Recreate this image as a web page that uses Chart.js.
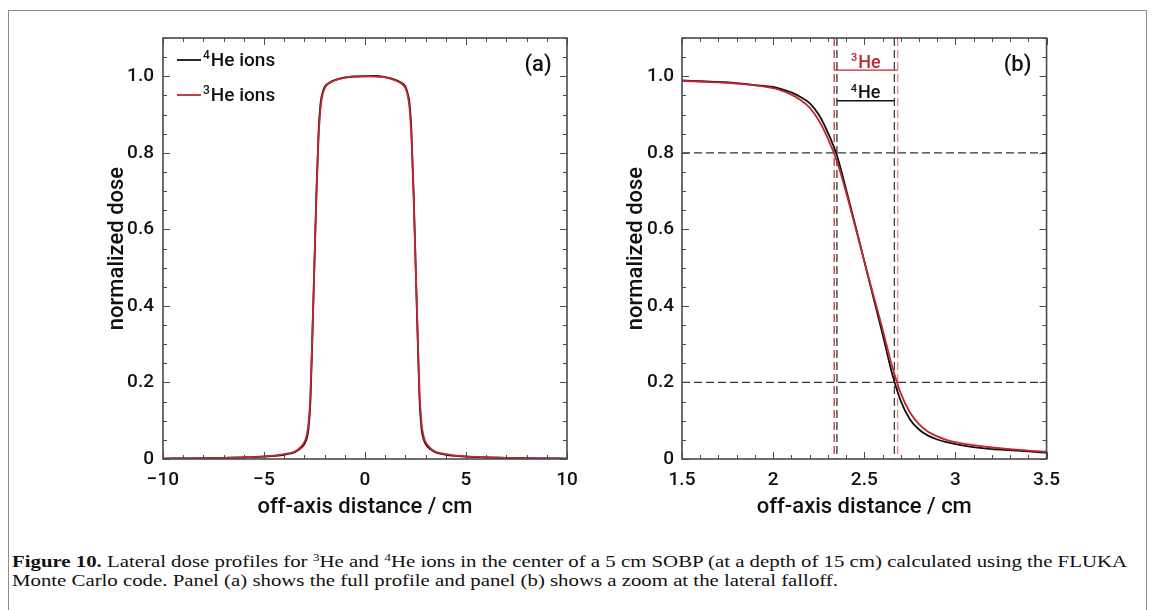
<!DOCTYPE html>
<html>
<head>
<meta charset="utf-8">
<script src="https://cdn.jsdelivr.net/npm/chart.js@4/dist/chart.umd.min.js"></script>
<style>
  html, body { margin: 0; padding: 0; background: #fff; }
  body { width: 1155px; height: 610px; position: relative; overflow: hidden; }
  #frame { position: absolute; left: 8px; top: 10px; width: 1139px; height: 640px; border: 1px solid #8c8c8c; box-sizing: border-box; }
  #wrapA { position: absolute; left: 0; top: 0; }
  #wrapB { position: absolute; left: 590px; top: 0; }
  #caption { position: absolute; left: 12px; top: 552px; font-family: "Liberation Serif", serif; font-size: 17px; line-height: 19px; color: #111; white-space: nowrap; transform-origin: 0 0; }
  #caption sup { font-size: 11px; line-height: 0; vertical-align: 6px; }
</style>
</head>
<body>
<div id="frame"></div>
<div id="wrapA"><canvas id="chartA" width="590" height="530"></canvas></div>
<div id="wrapB"><canvas id="chartB" width="480" height="530"></canvas></div>
<div id="caption"><span id="cap1"><b>Figure 10.</b> Lateral dose profiles for <sup>3</sup>He and <sup>4</sup>He ions in the center of a 5 cm SOBP (at a depth of 15 cm) calculated using the FLUKA</span><br><span>Monte Carlo code. Panel (a) shows the full profile and panel (b) shows a zoom at the lateral falloff.</span></div>
<script>
const FONT = 'Roboto';
const WEIGHT = 500;
const BLACK = '#111111';
const RED = '#c1272d';

// Panel (a): full lateral profile
const xA = [-10, -9, -8, -7, -6, -5, -4.5, -4, -3.5, -3.25, -3, -2.9, -2.8, -2.7, -2.6, -2.5, -2.4, -2.3, -2.2, -2.1, -2, -1.8, -1.5, -1, -0.5, 0,
            0.5, 1, 1.5, 1.8, 2, 2.1, 2.2, 2.3, 2.4, 2.5, 2.6, 2.7, 2.8, 2.9, 3, 3.25, 3.5, 4, 4.5, 5, 6, 7, 8, 9, 10];
const he4A = [0.001, 0.0015, 0.002, 0.003, 0.004, 0.006, 0.008, 0.011, 0.017, 0.025, 0.039, 0.051, 0.077, 0.152, 0.327, 0.517, 0.705, 0.853, 0.930, 0.957, 0.972, 0.982, 0.990, 0.997, 0.999, 1.000,
              1.001, 0.998, 0.991, 0.983, 0.973, 0.958, 0.931, 0.855, 0.707, 0.519, 0.329, 0.153, 0.078, 0.052, 0.039, 0.025, 0.017, 0.011, 0.008, 0.006, 0.004, 0.003, 0.002, 0.0015, 0.001];
const he3A = [0.001, 0.0015, 0.002, 0.003, 0.0045, 0.007, 0.009, 0.013, 0.019, 0.028, 0.044, 0.059, 0.091, 0.172, 0.340, 0.517, 0.697, 0.838, 0.918, 0.952, 0.968, 0.981, 0.989, 0.996, 1.000, 1.000,
              0.999, 0.997, 0.989, 0.981, 0.969, 0.953, 0.919, 0.839, 0.698, 0.518, 0.341, 0.173, 0.092, 0.060, 0.044, 0.028, 0.019, 0.013, 0.009, 0.007, 0.0045, 0.003, 0.002, 0.0015, 0.001];

// Panel (b): zoom on the falloff
const xB = [1.5, 1.6, 1.7, 1.8, 1.9, 2.0, 2.05, 2.1, 2.15, 2.2, 2.25, 2.3, 2.35, 2.4, 2.45, 2.5, 2.55, 2.6, 2.65, 2.7, 2.75, 2.8, 2.85, 2.9, 2.95, 3.0, 3.1, 3.2, 3.3, 3.4, 3.5];
const he4B = [0.989, 0.987, 0.985, 0.982, 0.977, 0.972, 0.966, 0.958, 0.946, 0.930, 0.900, 0.853, 0.793, 0.705, 0.612, 0.517, 0.422, 0.327, 0.228, 0.152, 0.104, 0.077, 0.061, 0.051, 0.044, 0.039, 0.031, 0.026, 0.023, 0.020, 0.0165];
const he3B = [0.988, 0.986, 0.984, 0.981, 0.976, 0.969, 0.962, 0.952, 0.938, 0.918, 0.885, 0.838, 0.778, 0.697, 0.608, 0.517, 0.428, 0.340, 0.247, 0.172, 0.122, 0.091, 0.071, 0.059, 0.050, 0.044, 0.036, 0.030, 0.026, 0.022, 0.019];

// 80% / 20% dose levels and where each curve crosses them
const doseLevels = [0.8, 0.2];
const cross4He = [2.35, 2.665];
const cross3He = [2.335, 2.683];
const bracketY = { he3: 1.016, he4: 0.936 };

// tick labels
const xTicksA = [-10, -5, 0, 5, 10];
const xTicksB = [1.5, 2, 2.5, 3, 3.5];
const yTicks = [0, 0.2, 0.4, 0.6, 0.8, 1.0];

const legendItems = [
    { sup: '4', text: 'He ions', color: BLACK },
    { sup: '3', text: 'He ions', color: RED }
];

function pts(xs, ys) {
    return xs.map((x, i) => ({ x: x, y: ys[i] }));
}

function supText(ctx, sup, main, x, y, size, color, align) {
    ctx.save();
    ctx.fillStyle = color;
    ctx.textBaseline = 'alphabetic';
    ctx.textAlign = 'left';
    const supSize = Math.round(size * 0.62);
    ctx.font = `${WEIGHT} ${supSize}px ${FONT}`;
    const ws = ctx.measureText(sup).width;
    ctx.font = `${WEIGHT} ${size}px ${FONT}`;
    const wm = ctx.measureText(main).width;
    const x0 = align === 'center' ? x - (ws + 1 + wm) / 2 : x;
    ctx.font = `${WEIGHT} ${supSize}px ${FONT}`;
    ctx.fillText(sup, x0, y - size * 0.36);
    ctx.font = `${WEIGHT} ${size}px ${FONT}`;
    ctx.fillText(main, x0 + ws + 1, y);
    ctx.restore();
}

// frame with inward ticks on all four sides
const framePlugin = {
    id: 'frame',
    afterDraw(chart, args, opts) {
        const { ctx, chartArea: a, scales: { x, y } } = chart;
        ctx.save();
        ctx.strokeStyle = '#4a4a4a';
        ctx.lineWidth = 1;
        const tick = (px, py, dx, dy) => {
            ctx.beginPath();
            ctx.moveTo(px, py);
            ctx.lineTo(px + dx, py + dy);
            ctx.stroke();
        };
        for (let v = x.min; v <= x.max + 1e-9; v += opts.xMinor) {
            const major = opts.xMajor.some(m => Math.abs(m - v) < 1e-6);
            const len = major ? 7 : 4;
            const px = Math.round(x.getPixelForValue(v)) + 0.5;
            tick(px, a.bottom, 0, -len);
            tick(px, a.top, 0, len);
        }
        for (let v = 0; v <= y.max + 1e-9; v += 0.05) {
            const major = yTicks.some(m => Math.abs(m - v) < 1e-6);
            const len = major ? 7 : 4;
            const py = Math.round(y.getPixelForValue(v)) + 0.5;
            tick(a.left, py, len, 0);
            tick(a.right, py, -len, 0);
        }
        ctx.lineWidth = 1.6;
        ctx.strokeStyle = '#4a4a4a';
        ctx.strokeRect(a.left, a.top, a.right - a.left, a.bottom - a.top);

        // panel tag
        ctx.fillStyle = BLACK;
        ctx.font = `${WEIGHT} 22px ${FONT}`;
        ctx.textAlign = 'center';
        ctx.textBaseline = 'alphabetic';
        ctx.fillText(opts.tag, a.right - opts.tagDx, 71);

        // legend (panel a only)
        if (opts.legend) {
            legendItems.forEach((it, i) => {
                const ly = 60 + i * 35;
                ctx.strokeStyle = it.color;
                ctx.lineWidth = 1.8;
                ctx.beginPath();
                ctx.moveTo(177, ly);
                ctx.lineTo(201, ly);
                ctx.stroke();
                supText(ctx, it.sup, it.text, 203, ly + 5.5, 19, BLACK, 'left');
            });
        }
        ctx.restore();
    }
};

// dashed 80/20 markers and width brackets (panel b)
const markerPlugin = {
    id: 'markers',
    beforeDatasetsDraw(chart, args, opts) {
        if (!opts.show) return;
        const { ctx, chartArea: a, scales: { x, y } } = chart;
        ctx.save();
        ctx.lineWidth = 1.3;
        ctx.setLineDash([8, 4]);
        const vline = (v, color) => {
            const px = x.getPixelForValue(v);
            ctx.strokeStyle = color;
            ctx.beginPath();
            ctx.moveTo(px, a.top);
            ctx.lineTo(px, a.bottom);
            ctx.stroke();
        };
        doseLevels.forEach(d => {
            const py = y.getPixelForValue(d);
            ctx.strokeStyle = '#333';
            ctx.beginPath();
            ctx.moveTo(a.left, py);
            ctx.lineTo(a.right, py);
            ctx.stroke();
        });
        vline(cross3He[0], '#c0353a');
        vline(cross4He[0], '#333');
        vline(cross4He[1], '#444');
        vline(cross3He[1], '#e08a8a');
        ctx.setLineDash([]);

        // brackets
        ctx.lineWidth = 1.3;
        const yr = y.getPixelForValue(bracketY.he3);
        ctx.strokeStyle = RED;
        ctx.beginPath();
        ctx.moveTo(x.getPixelForValue(cross3He[0]), yr);
        ctx.lineTo(x.getPixelForValue(cross3He[1]), yr);
        ctx.stroke();
        const yk = y.getPixelForValue(bracketY.he4);
        ctx.strokeStyle = BLACK;
        ctx.beginPath();
        ctx.moveTo(x.getPixelForValue(cross4He[0]), yk);
        ctx.lineTo(x.getPixelForValue(cross4He[1]), yk);
        ctx.stroke();

        const cx3 = (x.getPixelForValue(cross3He[0]) + x.getPixelForValue(cross3He[1])) / 2;
        const cx4 = (x.getPixelForValue(cross4He[0]) + x.getPixelForValue(cross4He[1])) / 2;
        supText(ctx, '3', 'He', cx3, yr - 2.5, 18, RED, 'center');
        supText(ctx, '4', 'He', cx4, yk - 2.5, 18, BLACK, 'center');
        ctx.restore();
    }
};

function makeChart(id, cfg) {
    const ctx = document.getElementById(id).getContext('2d');
    return new Chart(ctx, {
        type: 'line',
        data: {
            datasets: [
                { label: '4He ions', data: pts(cfg.xs, cfg.he4), borderColor: BLACK, order: 1 },
                { label: '3He ions', data: pts(cfg.xs, cfg.he3), borderColor: RED, order: 0 }
            ]
        },
        options: {
            responsive: false,
            animation: false,
            devicePixelRatio: 1,
            layout: { padding: { left: cfg.padLeft, right: cfg.padRight, top: 38, bottom: 5 } },
            elements: {
                point: { radius: 0 },
                line: { borderWidth: 1.8, cubicInterpolationMode: 'monotone', fill: false }
            },
            plugins: {
                legend: { display: false },
                tooltip: { enabled: false },
                frame: { xMinor: cfg.xMinor, xMajor: cfg.xTicks, tag: cfg.tag, tagDx: 29, legend: cfg.legend },
                markers: { show: cfg.markers }
            },
            scales: {
                x: {
                    type: 'linear',
                    min: cfg.xTicks[0],
                    max: cfg.xTicks[cfg.xTicks.length - 1],
                    afterBuildTicks: s => { s.ticks = cfg.xTicks.map(v => ({ value: v })); },
                    afterFit: s => { s.height = 66; },
                    grid: { display: false, drawTicks: false },
                    border: { display: false },
                    ticks: {
                        padding: 10, color: BLACK, maxRotation: 0, autoSkip: false,
                        font: { family: FONT, size: 19, weight: WEIGHT },
                        callback: v => String(v).replace('-', '\u2212')
                    },
                    title: {
                        display: true, text: 'off-axis distance / cm', color: BLACK,
                        font: { family: FONT, size: 22, weight: WEIGHT }, padding: { top: 4, bottom: 4 }
                    }
                },
                y: {
                    type: 'linear',
                    min: 0,
                    max: 1.1,
                    afterBuildTicks: s => { s.ticks = yTicks.map(v => ({ value: v })); },
                    afterFit: s => { s.width = cfg.yWidth; },
                    grid: { display: false, drawTicks: false },
                    border: { display: false },
                    ticks: {
                        padding: cfg.yPad, color: BLACK,
                        font: { family: FONT, size: 19, weight: WEIGHT },
                        callback: v => v === 0 ? '0' : v.toFixed(1)
                    },
                    title: {
                        display: true, text: 'normalized dose', color: BLACK,
                        font: { family: FONT, size: 22, weight: WEIGHT }, padding: { top: 4, bottom: 4 }
                    }
                }
            }
        },
        plugins: [markerPlugin, framePlugin]
    });
}

makeChart('chartA', {
    xs: xA, he4: he4A, he3: he3A, xTicks: xTicksA, xMinor: 1,
    padLeft: 100, yWidth: 63, padRight: 23, yPad: 9, tag: '(a)', legend: true, markers: false
});
makeChart('chartB', {
    xs: xB, he4: he4B, he3: he3B, xTicks: xTicksB, xMinor: 0.1,
    padLeft: 29, yWidth: 63, padRight: 15, yPad: 8, tag: '(b)', legend: false, markers: true
});

// fit the caption's first line to the width used in the figure
const cap = document.getElementById('caption');
const w = document.getElementById('cap1').getBoundingClientRect().width;
cap.style.transform = `scaleX(${1115 / w})`;
</script>
</body>
</html>
